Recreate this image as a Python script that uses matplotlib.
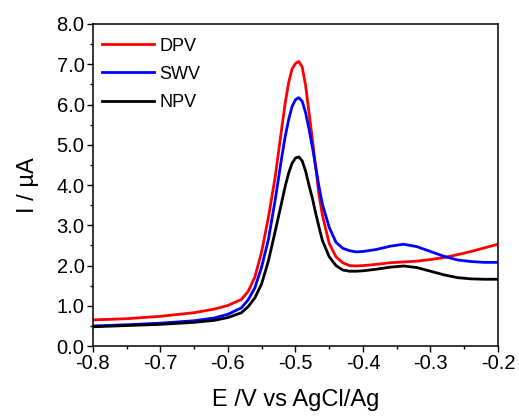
import matplotlib.pyplot as plt
from matplotlib.ticker import MultipleLocator

plt.rcParams['font.family'] = ['Liberation Sans', 'DejaVu Sans']

E = [-0.80, -0.75, -0.70, -0.65, -0.62, -0.60, -0.58, -0.57, -0.56, -0.55,
     -0.54, -0.53, -0.52, -0.515, -0.51, -0.505, -0.50, -0.495, -0.49, -0.485,
     -0.48, -0.475, -0.47, -0.465, -0.46, -0.45, -0.44, -0.43, -0.42, -0.41,
     -0.40, -0.38, -0.36, -0.34, -0.32, -0.30, -0.28, -0.26, -0.24, -0.22, -0.20]

dpv = [0.65, 0.68, 0.74, 0.83, 0.92, 1.01, 1.16, 1.36, 1.72, 2.35,
       3.20, 4.20, 5.45, 6.05, 6.55, 6.88, 7.02, 7.07, 6.93, 6.48,
       5.82, 5.15, 4.45, 3.75, 3.25, 2.55, 2.22, 2.07, 2.00, 1.99,
       2.00, 2.03, 2.07, 2.09, 2.11, 2.15, 2.20, 2.27, 2.35, 2.44, 2.53]

swv = [0.50, 0.53, 0.57, 0.63, 0.70, 0.79, 0.95, 1.15, 1.45, 1.97,
       2.65, 3.63, 4.72, 5.22, 5.63, 5.95, 6.12, 6.17, 6.08, 5.80,
       5.40, 4.95, 4.45, 3.95, 3.52, 2.95, 2.58, 2.43, 2.37, 2.34,
       2.35, 2.40, 2.48, 2.53, 2.47, 2.35, 2.23, 2.14, 2.10, 2.08, 2.08]

npv = [0.48, 0.51, 0.54, 0.59, 0.64, 0.71, 0.83, 0.98, 1.20, 1.55,
       2.12, 2.85, 3.60, 3.98, 4.30, 4.54, 4.67, 4.70, 4.60, 4.35,
       4.00, 3.68, 3.30, 2.95, 2.62, 2.22, 2.00, 1.89, 1.86, 1.86,
       1.87, 1.91, 1.96, 1.99, 1.95, 1.86, 1.77, 1.70, 1.67, 1.66, 1.66]

fig = plt.figure(figsize=(5.19, 4.18), dpi=100)
ax = fig.add_axes([0.179, 0.172, 0.7805, 0.7706])

ax.plot(E, dpv, color='#ff0000', lw=2.0, label='DPV')
ax.plot(E, swv, color='#0000ff', lw=2.0, label='SWV')
ax.plot(E, npv, color='#000000', lw=2.0, label='NPV')

ax.set_xlim(-0.8, -0.2)
ax.set_ylim(0, 8)
ax.xaxis.set_major_locator(MultipleLocator(0.1))
ax.xaxis.set_minor_locator(MultipleLocator(0.05))
ax.yaxis.set_major_locator(MultipleLocator(1.0))
ax.yaxis.set_minor_locator(MultipleLocator(0.5))
ax.xaxis.set_major_formatter(lambda v, p: f'{v:.1f}')
ax.yaxis.set_major_formatter(lambda v, p: f'{v:.1f}')
ax.tick_params(which='major', direction='out', length=4, width=1,
               labelsize=14.5, pad=2)
ax.tick_params(which='minor', direction='out', length=2.5, width=1)
ax.tick_params(top=False, right=False, which='both')
for s in ax.spines.values():
    s.set_linewidth(1.1)

ax.set_xlabel('E /V vs AgCl/Ag', fontsize=17, labelpad=11)
ax.set_ylabel('I / µA', fontsize=17, labelpad=13)

ax.legend(loc='upper left', bbox_to_anchor=(-0.012, 1.0), frameon=False,
          fontsize=13, handlelength=2.9, handletextpad=0.3, labelspacing=0.62,
          borderaxespad=0.25, borderpad=0.5)

fig.savefig('out.png', dpi=100)
